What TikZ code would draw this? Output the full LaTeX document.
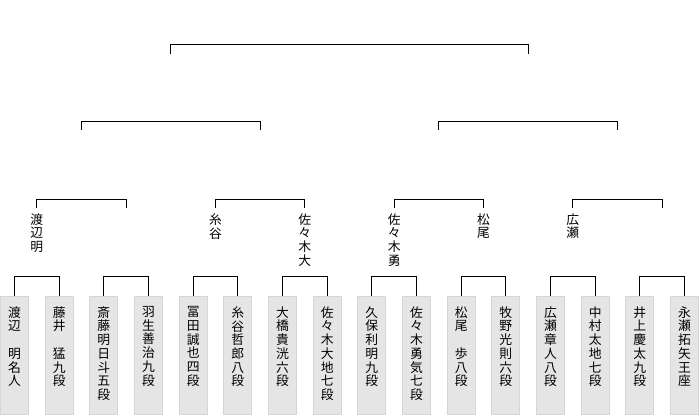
\documentclass[tikz,border=0pt]{standalone}
\usepackage{fontspec}
\setmainfont{Noto Sans CJK JP}
\usetikzlibrary{positioning,calc}

\ExplSyntaxOn
\NewDocumentCommand\tate{m}{
  \seq_clear:N \l_tmpa_seq
  \tl_set:Nx \l_tmpa_tl {#1}
  \tl_map_inline:Nn \l_tmpa_tl {\seq_put_right:Nn \l_tmpa_seq {##1}}
  \seq_use:Nn \l_tmpa_seq {\\}
}
\ExplSyntaxOff

\begin{document}
\begin{tikzpicture}[
    x=1pt, y=-1pt, line width=1pt,
    leaf/.style={draw=black!16, fill=black!10, line width=0.8pt, minimum width=28pt, minimum height=118pt, inner sep=0pt, anchor=north},
    tname/.style={font=\fontsize{12.8}{13.7}\selectfont, align=center, inner sep=0pt, anchor=north}
]
  \useasboundingbox (0,0) rectangle (700,415);

  % giocatori
  \foreach \n [count=\i] in {渡辺　明名人, 藤井　猛九段, 斎藤明日斗五段, 羽生善治九段,
      冨田誠也四段, 糸谷哲郎八段, 大橋貴洸六段, 佐々木大地七段,
      久保利明九段, 佐々木勇気七段, 松尾　歩八段, 牧野光則六段,
      広瀬章人八段, 中村太地七段, 井上慶太九段, 永瀬拓矢王座}{
    \node[leaf] (l\i) at ({14.5+44.667*(\i-1)},296) {};
    \node[tname, below=10pt of l\i.north] (n\i) {\tate{\n}};
  }

  % primo turno
  \foreach \k in {1,...,8}{
    \pgfmathtruncatemacro\a{2*\k-1}
    \pgfmathtruncatemacro\b{2*\k}
    \draw (l\a.north) -- ++(0,-20) -| (l\b.north);
    \coordinate (q\k) at ($(l\a.north)!0.5!(l\b.north)+(0,-88)$);
  }

  % vincitori
  \foreach \k/\n in {1/渡辺明, 3/糸谷, 4/佐々木大, 5/佐々木勇, 6/松尾, 7/広瀬}
    \node[tname, below=5pt of q\k] (w\k) {\tate{\n}};

  % secondo turno
  \foreach \k in {1,...,4}{
    \pgfmathtruncatemacro\a{2*\k-1}
    \pgfmathtruncatemacro\b{2*\k}
    \draw (q\a) -- ++(0,-9) -| (q\b);
    \coordinate (r\k) at ($(q\a)!0.5!(q\b)+(0,-78)$);
  }

  % semifinali
  \foreach \k in {1,2}{
    \pgfmathtruncatemacro\a{2*\k-1}
    \pgfmathtruncatemacro\b{2*\k}
    \draw (r\a) -- ++(0,-9) -| (r\b);
    \coordinate (s\k) at ($(r\a)!0.5!(r\b)+(0,-76)$);
  }

  % finale
  \draw (s1) -- ++(0,-10) -| (s2);

\end{tikzpicture}
\end{document}
